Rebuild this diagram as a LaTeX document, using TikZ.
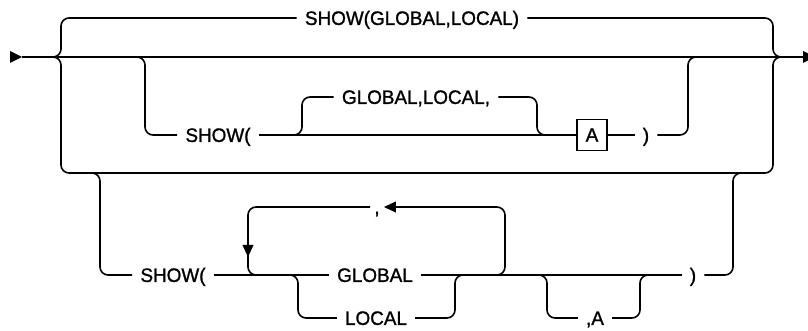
\documentclass[tikz,border=0pt]{standalone}
\usepackage{fontspec}
\setmainfont{Liberation Sans}
\newfontfamily\railfont{Liberation Sans}[FakeBold=1.2,FakeStretch=0.97]
\usetikzlibrary{arrows.meta}

\begin{document}
\begin{tikzpicture}[x=0.75pt,y=-0.75pt,
  rail/.style={line width=1.2pt,rounded corners=6pt},
  word/.style={font=\railfont\fontsize{14.6}{17}\selectfont,text height=10.4pt,text depth=0pt,inner xsep=6pt,inner ysep=0pt},
  keybox/.style={draw,line width=1pt,font=\railfont\fontsize{14.6}{17}\selectfont,minimum width=22.5pt,minimum height=23pt,inner sep=0pt},
  backarrow/.style={-{Triangle[length=9pt,width=8pt]}}]
% ---- rows: top, main line, inner rows
\def\ya{18}  \def\yb{57}  \def\yc{97}  \def\yd{135}
\def\ye{173} \def\yf{207} \def\yg{275} \def\yh{318}
\useasboundingbox (0,0) rectangle (808,331);
% ---- texts
\node[word] (all) at (412,\ya) {SHOW(GLOBAL,LOCAL)};
\node[word] (showa) at (218,\yd) {SHOW(};
\node[word] (both) at (416,\yc) {GLOBAL,LOCAL,};
\node[keybox] (keya) at (592,\yd) {A};
\node[word] (closea) at (646,\yd) {)};
\node[word] (showb) at (173,\yg) {SHOW(};
\node[word] (glob) at (375,\yg) {GLOBAL};
\node[word] (loc) at (376,\yh) {LOCAL};
\node[word,inner xsep=3pt] (sep) at (377,\yf) {,};
\node[word] (opta) at (595,\yh) {,A};
\node[word] (closeb) at (693,\yg) {)};
% ---- main line with start and end marks
\coordinate (in) at (22,\yb);
\coordinate (out) at (803,\yb);
\draw[rail] (in) -- (out);
\fill (10,51) -- (10,63) -- (22,57) -- cycle;
\fill (803,51) -- (803,63) -- (815,57) -- cycle;
% ---- outer choice: top row and lower block
\draw[rail] (52,\yb) -- (61,\yb) -- (61,\ya) -- (all.west);
\draw[rail] (all.east) -- (773,\ya) -- (773,\yb) -- (782,\yb);
\draw[rail] (52,\yb) -- (61,\yb) -- (61,\ye) -- (773,\ye) -- (773,\yb) -- (782,\yb);
% ---- SHOW( ... A )
\draw[rail] (137,\yb) -- (145,\yb) -- (145,\yd) -- (showa.west);
\draw[rail] (showa.east) -- (keya.west);
\draw[rail] (294,\yd) -- (302,\yd) -- (302,\yc) -- (both.west);
\draw[rail] (both.east) -- (537,\yc) -- (537,\yd) -- (545,\yd);
\draw[rail] (keya.east) -- (closea.west);
\draw[rail] (closea.east) -- (688,\yd) -- (688,\yb) -- (697,\yb);
% ---- SHOW( GLOBAL/LOCAL repeated , A )
\draw[rail] (92,\ye) -- (100,\ye) -- (100,\yg) -- (showb.west);
\draw[rail] (showb.east) -- (glob.west);
\draw[rail] (glob.east) -- (closeb.west);
\draw[rail] (closeb.east) -- (733,\yg) -- (733,\ye) -- (743,\ye);
\draw[rail] (290,\yg) -- (298,\yg) -- (298,\yh) -- (loc.west);
\draw[rail] (loc.east) -- (455,\yh) -- (455,\yg) -- (463,\yg);
% repeat loop
\draw[rail,backarrow] (495,\yg) -- (505,\yg) -- (505,\yf) -- (sep.east);
\draw[rail,backarrow] (sep.west) -- (248,\yf) -- (248,257);
\draw[rail] (248,254) -- (248,\yg) -- (258,\yg);
% optional ,A
\draw[rail] (538,\yg) -- (547,\yg) -- (547,\yh) -- (opta.west);
\draw[rail] (opta.east) -- (640,\yh) -- (640,\yg) -- (650,\yg);
\end{tikzpicture}
\end{document}
